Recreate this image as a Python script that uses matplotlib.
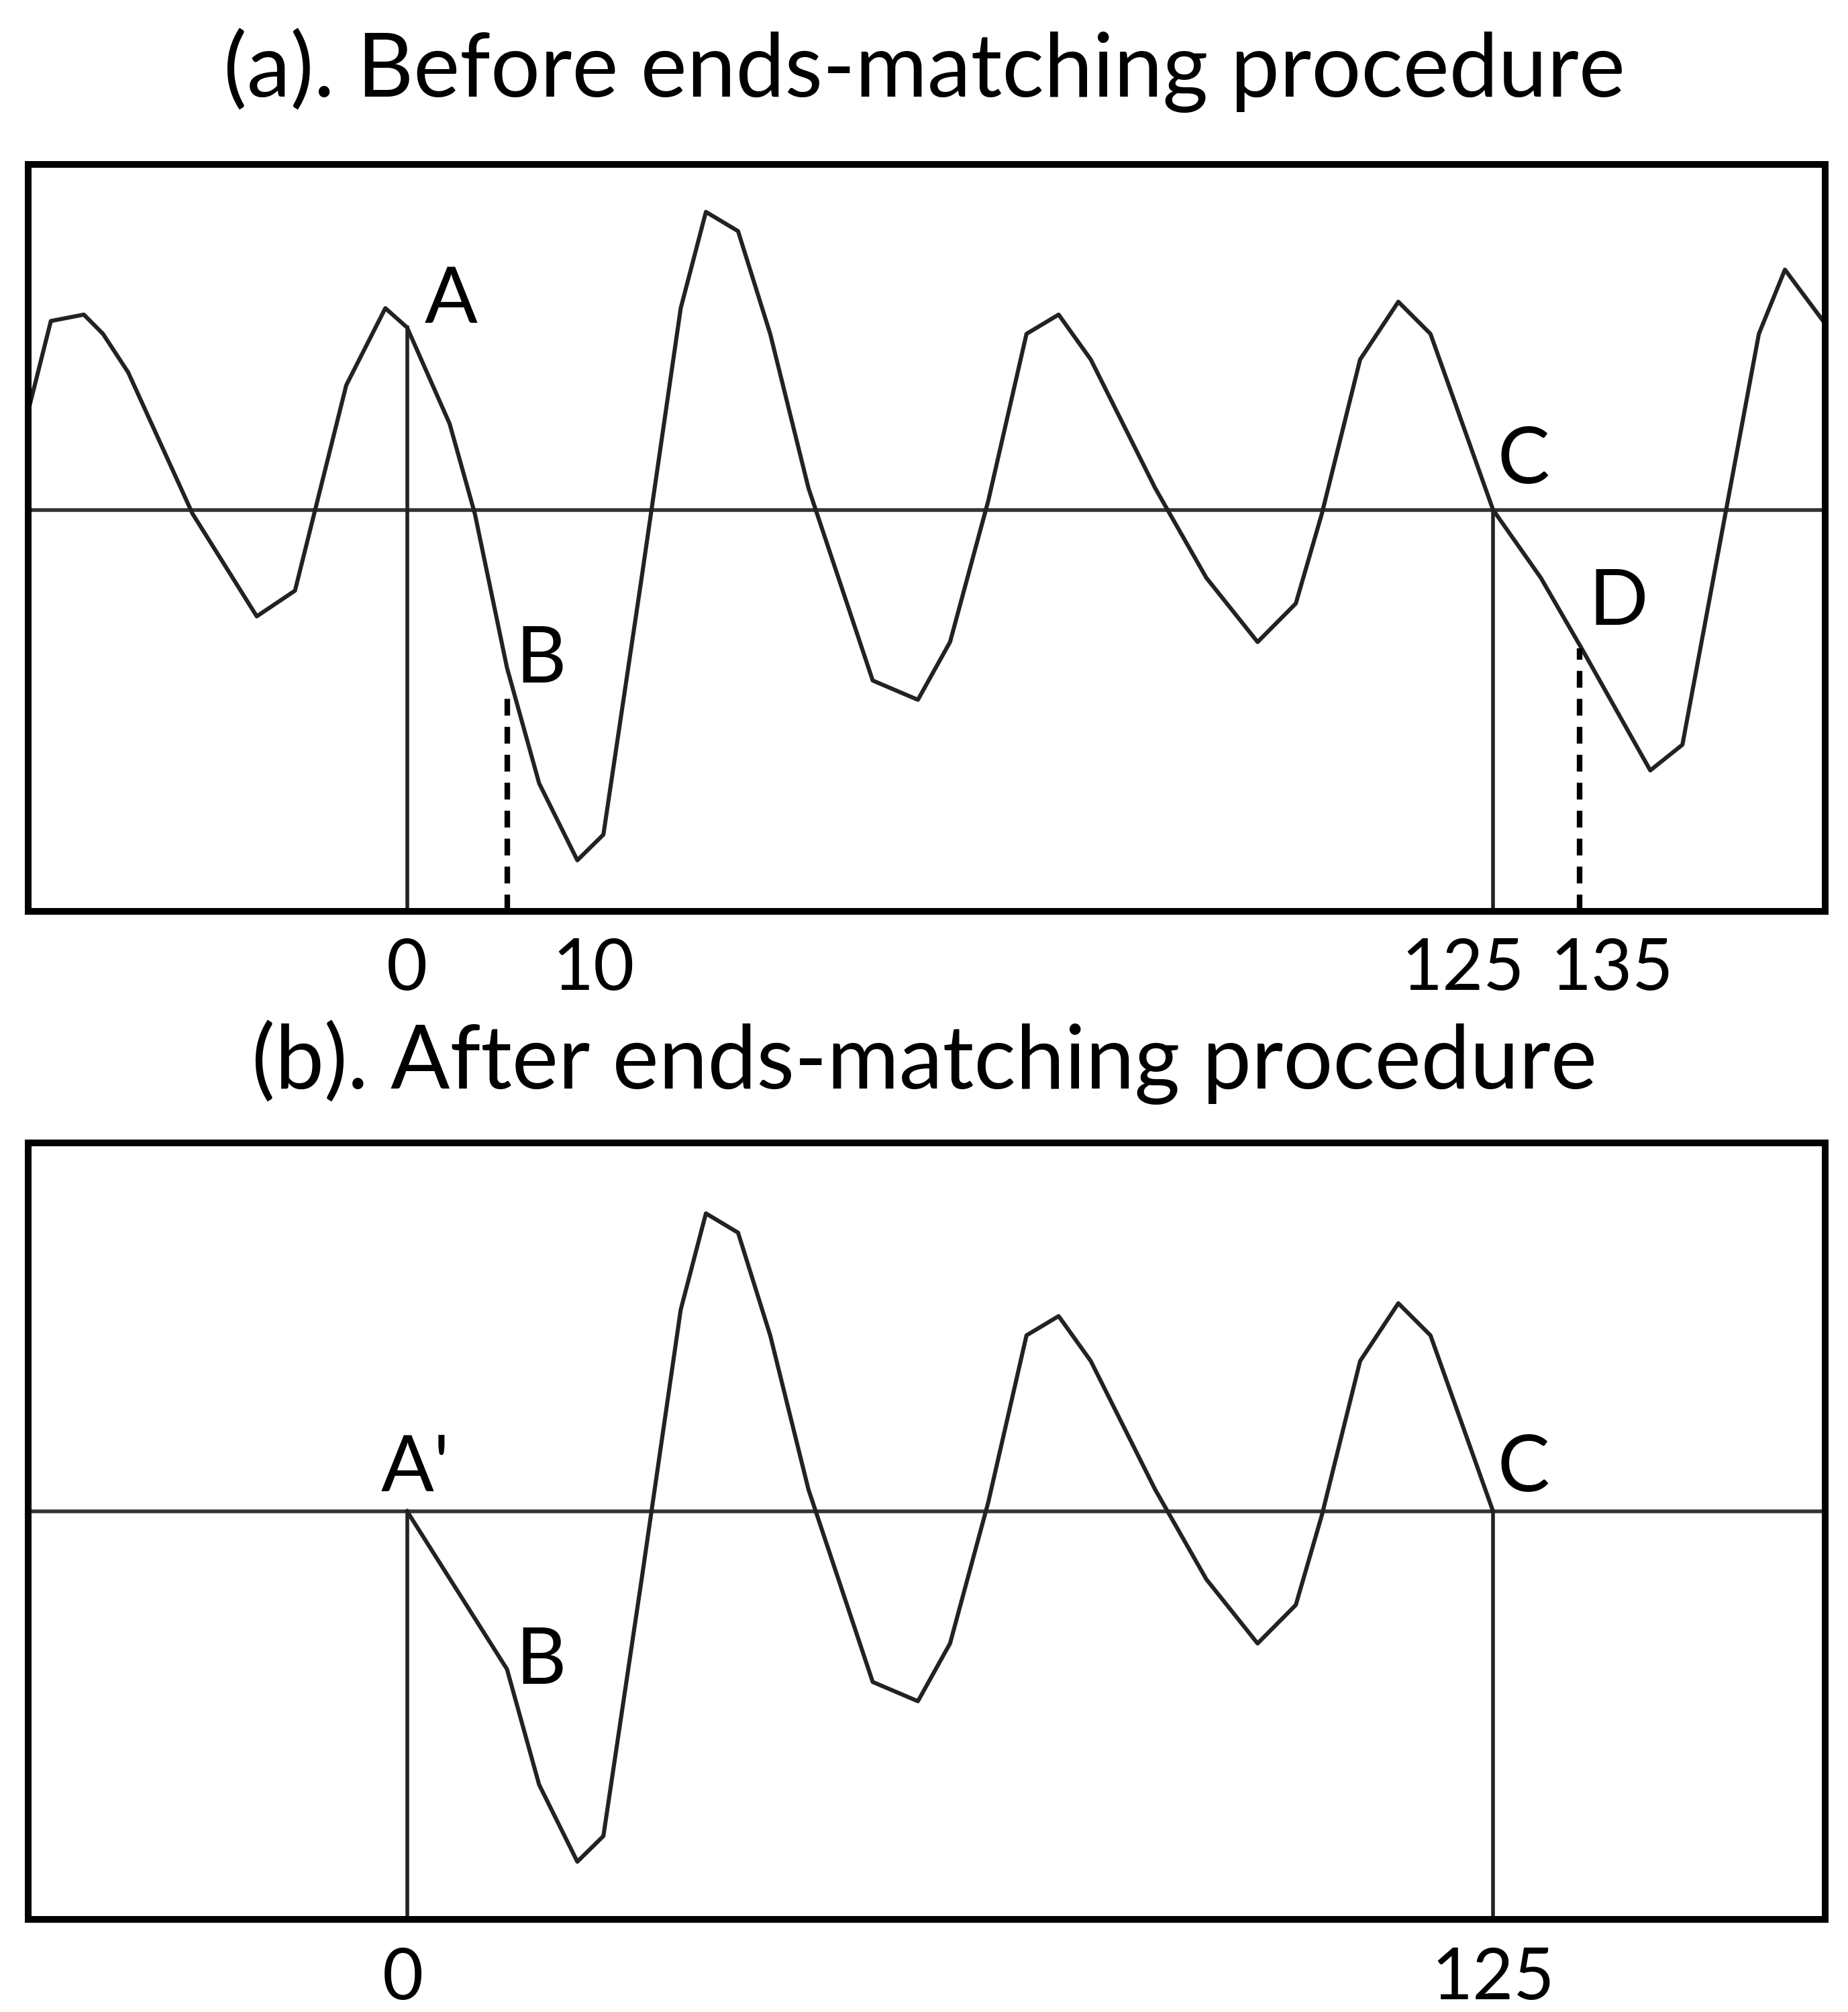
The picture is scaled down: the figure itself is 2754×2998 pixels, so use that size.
import numpy as np
import matplotlib
matplotlib.use("Agg")
import matplotlib.pyplot as plt

plt.rcParams['font.family'] = ['Lato', 'DejaVu Sans']

# signal samples (x in samples, y in arbitrary amplitude)
sig_x = [-43.6, -41.0, -37.2, -35.0, -32.1, -24.7, -17.3, -12.9, -7.0, -2.5, 0.0,
         4.9, 7.8, 11.5, 15.2, 19.6, 22.6, 27.0, 31.5, 34.4, 38.1, 41.8, 46.2,
         53.6, 58.8, 62.5, 66.9, 71.3, 75.0, 78.7, 86.1, 92.0, 97.9, 102.3, 105.3,
         109.7, 114.1, 117.8, 125.0, 130.5, 135.2, 143.1, 146.8, 151.2, 155.6, 158.6, 163.0]
sig_y = [0.77, 1.47, 1.52, 1.37, 1.07, -0.03, -0.83, -0.63, 0.97, 1.57, 1.42,
         0.67, -0.03, -1.23, -2.13, -2.73, -2.53, -0.53, 1.57, 2.32, 2.17, 1.37, 0.17,
         -1.33, -1.48, -1.03, 0.07, 1.37, 1.52, 1.17, 0.17, -0.53, -1.03, -0.73, -0.03,
         1.17, 1.62, 1.37, 0.0, -0.53, -1.08, -2.03, -1.83, -0.23, 1.37, 1.87, 1.47]

x_a_ticks = [0, 10, 125, 135]
x_b_ticks = [0, 125]
B_y = -1.23
D_y = -1.08

X = np.array(sig_x); Y = np.array(sig_y)

fig = plt.figure(figsize=(13.77, 14.99), dpi=200)

def frame(ax, ylim):
    ax.set_xlim(-43.6, 163.2)
    ax.set_ylim(*ylim)
    for s in ax.spines.values():
        s.set_linewidth(3.6)
    ax.set_yticks([])
    ax.set_xticks([])

def ticklabels(ax, ticks, offsets):
    tr = ax.get_xaxis_transform()
    for t, off in zip(ticks, offsets):
        ax.text(t + off, -0.035, str(t), transform=tr, ha='center', va='top', fontsize=38)

# panel a
axa = fig.add_axes([0.0153, 0.5469, 0.9722, 0.3714])
frame(axa, (-3.13, 2.69))
axa.axhline(0, color='#333333', lw=2)
axa.plot(X, Y, color='#222222', lw=2.2)
yb = axa.get_ylim()[0]
axa.plot([0, 0], [yb, np.interp(0, X, Y)], color='#222222', lw=2)
axa.plot([125, 125], [yb, 0], color='#222222', lw=2)
axa.plot([11.5, 11.5], [yb, -1.43], color='black', lw=3, ls=(0, (3, 2)))
axa.plot([135, 135], [yb, D_y], color='black', lw=3, ls=(0, (3, 2)))
ticklabels(axa, x_a_ticks, [0, 11.5, -3.5, 3.7])
for lab, x, y in [('A', 2.0, 1.35), ('B', 12.5, -1.45), ('C', 125.5, 0.1), ('D', 136.0, -1.0)]:
    axa.text(x, y, lab, fontsize=42, ha='left', va='bottom')
fig.text(0.5, 0.965, '(a). Before ends-matching procedure', ha='center', va='center', fontsize=47)

# panel b
axb = fig.add_axes([0.0153, 0.046, 0.9722, 0.386])
frame(axb, (-3.18, 2.87))
axb.axhline(0, color='#333333', lw=2)
mask = (X >= 11) & (X <= 125)
bx = np.concatenate([[0], X[mask]])
by = np.concatenate([[0], Y[mask]])
axb.plot(bx, by, color='#222222', lw=2.2)
yb = axb.get_ylim()[0]
axb.plot([0, 0], [yb, 0], color='#222222', lw=2)
axb.plot([125, 125], [yb, 0], color='#222222', lw=2)
ticklabels(axb, x_b_ticks, [-0.5, 0])
for lab, x, y in [("A'", -3.0, 0.05), ('B', 12.5, -1.45), ('C', 125.5, 0.05)]:
    axb.text(x, y, lab, fontsize=42, ha='left', va='bottom')
fig.text(0.5, 0.472, '(b). After ends-matching procedure', ha='center', va='center', fontsize=47)

fig.savefig('out.png', dpi=200)
